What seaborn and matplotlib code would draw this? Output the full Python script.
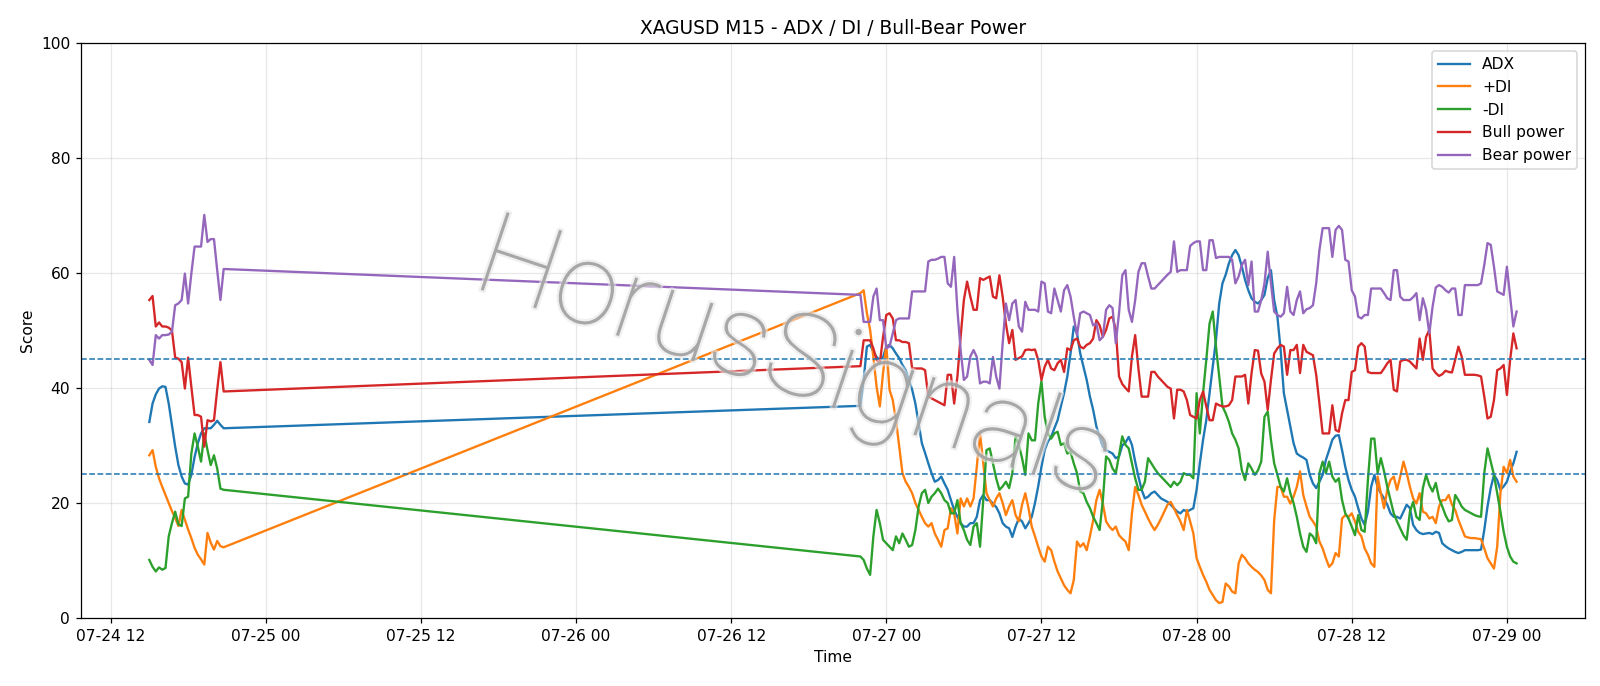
import matplotlib
matplotlib.use("Agg")
import matplotlib.pyplot as plt
import matplotlib.dates as mdates
import matplotlib.patheffects as pe
import numpy as np
import pandas as pd
import seaborn as sns

# ---- data -----------------------------------------------------------
seg1_start = "2025-07-24 15:00"
seg2_start = "2025-07-26 22:00"
freq = "15min"

adx_1 = [34.1, 37.3, 38.9, 39.9, 40.3, 40.2, 37.3, 33.6, 29.8, 26.6, 24.6, 23.4,
         23.2, 24.9, 28.0, 30.4, 32.1, 33.0, 33.0, 33.0, 33.6, 34.3, 33.6, 33.0]
pdi_1 = [28.3, 29.2, 26.3, 24.3, 22.8, 21.4, 20.0, 18.6, 17.4, 16.0, 18.8, 17.1,
         15.4, 13.9, 12.2, 11.0, 10.2, 9.3, 14.8, 13.1, 11.9, 13.4, 12.5, 12.3]
mdi_1 = [10.1, 8.9, 8.1, 8.8, 8.4, 8.7, 14.2, 16.5, 18.5, 16.3, 16.0, 20.8,
         21.1, 28.6, 32.1, 29.8, 27.2, 32.1, 29.2, 26.6, 28.3, 26.0, 22.5, 22.3]
bull_1 = [55.3, 56.0, 50.7, 51.4, 50.7, 50.7, 50.5, 50.0, 45.3, 45.1, 44.5, 39.9,
          45.3, 40.2, 35.3, 35.3, 35.0, 29.8, 34.4, 34.2, 34.4, 39.7, 44.5, 39.4]
bear_1 = [44.9, 44.0, 49.2, 48.6, 49.2, 49.2, 49.3, 49.8, 54.4, 54.7, 55.3, 59.9,
          54.7, 59.9, 64.6, 64.6, 64.6, 70.1, 65.4, 65.9, 65.9, 60.5, 55.3, 60.7]

adx_2 = [36.9, 41.4, 47.2, 47.5, 46.3, 45.4, 44.9, 45.4, 47.2, 47.5, 46.9, 46.0, 45.2, 44.0, 43.1, 41.4, 39.7, 37.3, 33.9, 30.4,
         28.7, 26.9, 25.2, 23.7, 24.0, 24.6, 23.4, 22.3, 20.5, 18.8, 17.6, 16.5, 15.9, 15.9, 16.5, 16.5, 17.6, 20.5, 21.4, 20.5,
         20.5, 19.9, 19.3, 18.2, 16.5, 15.9, 15.6, 14.1, 15.9, 17.3, 16.8, 15.6, 16.5, 17.6, 20.0, 22.9, 26.3, 29.2, 30.7, 31.5,
         33.0, 34.4, 36.8, 39.1, 42.0, 46.0, 50.7, 49.5, 46.0, 43.7, 41.4, 38.5, 36.2, 33.3, 31.5, 29.8, 29.2, 28.9, 28.6, 27.8,
         28.1, 30.0, 30.5, 31.5, 30.1, 27.2, 24.6, 22.3, 20.8, 21.1, 21.7, 22.0, 21.4, 20.8, 20.5, 20.2, 19.7, 19.1, 18.5, 18.2,
         18.8, 18.5, 18.8, 19.1, 22.3, 26.9, 31.0, 34.4, 39.1, 43.7, 48.4, 54.7, 58.2, 59.7, 61.7, 63.1, 64.0, 63.1, 61.1, 58.8,
         57.0, 55.6, 55.0, 54.7, 55.3, 56.2, 59.1, 60.5, 55.3, 52.4, 46.6, 39.1, 36.2, 33.3, 30.4, 28.6, 28.2, 27.9, 27.5, 24.9,
         23.4, 22.6, 23.7, 24.9, 27.5, 29.2, 31.0, 31.7, 31.8, 29.2, 26.3, 24.0, 22.3, 21.1, 19.1, 17.3, 16.2, 18.5, 22.8, 24.9,
         22.8, 21.7, 20.8, 19.7, 18.2, 17.6, 17.6, 17.3, 18.5, 19.7, 19.1, 16.2, 15.3, 14.8, 14.6, 14.7, 14.8, 14.6, 15.0, 14.8,
         13.0, 12.5, 12.1, 11.8, 11.5, 11.3, 11.5, 11.8, 11.8, 11.8, 11.8, 11.8, 11.9, 15.3, 19.4, 22.6, 24.9, 24.0, 22.3, 22.9,
         23.7, 25.5, 26.9, 28.9]
pdi_2 = [56.5, 57.0, 53.0, 50.1, 45.4, 40.2, 36.8, 42.6, 47.5, 39.7, 37.9, 34.4, 29.8, 25.2, 23.7, 22.8, 21.7, 20.0, 18.8, 17.6,
         16.5, 15.9, 16.5, 14.7, 13.6, 12.4, 15.3, 15.6, 19.1, 18.2, 14.7, 20.8, 19.4, 20.8, 19.4, 20.8, 26.3, 32.1, 26.9, 21.7,
         20.5, 19.4, 20.8, 21.7, 20.0, 17.9, 19.4, 20.5, 17.9, 16.8, 19.7, 21.7, 19.1, 15.9, 14.2, 12.4, 10.7, 9.8, 12.4, 11.8,
         9.8, 8.1, 6.9, 5.7, 4.9, 4.3, 6.6, 13.3, 12.4, 13.0, 11.8, 14.2, 17.0, 20.5, 22.3, 19.9, 16.8, 15.9, 15.3, 15.9,
         14.4, 13.8, 13.3, 11.8, 18.2, 22.8, 21.4, 19.7, 18.5, 17.3, 16.2, 15.3, 16.2, 17.3, 18.5, 19.7, 20.2, 19.1, 17.9, 16.8,
         15.3, 18.8, 16.8, 14.7, 10.4, 8.9, 7.5, 6.3, 4.9, 4.0, 3.1, 2.6, 2.8, 6.0, 5.5, 4.6, 4.3, 9.5, 11.0, 10.4,
         9.5, 8.9, 8.4, 8.0, 7.4, 6.6, 4.9, 4.3, 17.0, 22.8, 22.8, 21.1, 21.1, 19.9, 21.1, 22.8, 25.5, 21.4, 19.4, 17.6,
         16.8, 15.9, 13.3, 12.1, 10.4, 8.9, 9.5, 11.3, 10.7, 17.3, 17.9, 17.6, 18.2, 16.8, 15.0, 14.2, 12.1, 11.0, 9.5, 8.9,
         24.6, 21.7, 19.1, 22.3, 24.0, 24.6, 22.3, 24.6, 27.2, 25.2, 22.8, 20.8, 19.9, 21.7, 18.5, 18.2, 17.3, 17.6, 16.5, 19.4,
         20.5, 20.5, 21.4, 19.7, 18.8, 17.05, 15.6, 14.2, 14.0, 13.9, 13.9, 13.8, 13.7, 12.1, 10.4, 9.5, 8.6, 12.4, 21.7, 26.3,
         25.2, 27.5, 24.6, 23.7]
mdi_2 = [10.7, 10.1, 8.6, 7.5, 14.2, 18.8, 16.5, 13.6, 13.0, 12.4, 11.8, 14.2, 13.0, 14.7, 13.6, 12.4, 12.7, 15.3, 19.4, 21.7,
         22.3, 20.0, 21.1, 21.7, 22.5, 21.7, 20.5, 20.0, 18.2, 18.2, 20.5, 16.5, 15.3, 13.6, 12.7, 15.9, 16.5, 12.4, 20.5, 29.2,
         29.5, 26.9, 24.3, 22.3, 22.9, 23.7, 22.6, 25.2, 31.5, 30.1, 27.8, 24.9, 32.1, 30.9, 30.9, 37.3, 41.2, 35.0, 32.1, 31.2,
         32.1, 32.4, 30.1, 30.4, 28.6, 28.9, 26.9, 25.2, 22.0, 21.7, 20.2, 19.1, 17.6, 16.5, 15.3, 20.5, 28.1, 27.5, 26.0, 25.2,
         28.3, 31.6, 30.1, 29.5, 26.9, 24.3, 22.3, 22.3, 23.7, 27.8, 26.9, 26.0, 25.2, 24.6, 24.0, 23.4, 22.8, 23.7, 23.1, 23.7,
         25.2, 24.9, 24.9, 24.3, 39.1, 32.1, 39.1, 44.9, 51.2, 53.3, 47.2, 42.0, 36.8, 35.6, 34.1, 32.1, 31.0, 29.5, 25.7, 24.0,
         26.9, 26.0, 24.9, 25.7, 27.2, 35.0, 35.9, 31.0, 26.9, 24.9, 22.8, 22.0, 24.3, 21.7, 20.0, 17.6, 14.7, 12.4, 11.5, 14.7,
         14.2, 13.0, 25.2, 27.2, 25.2, 27.2, 24.6, 23.7, 24.3, 20.5, 18.2, 17.3, 15.9, 14.4, 17.9, 15.3, 15.0, 24.0, 31.2, 31.2,
         25.2, 27.8, 25.5, 22.8, 20.5, 18.2, 16.8, 15.6, 14.4, 13.6, 18.5, 20.2, 17.6, 17.05, 22.6, 24.9, 23.1, 22.0, 23.5, 20.8,
         19.4, 17.9, 16.8, 17.05, 21.4, 20.5, 19.4, 18.8, 18.5, 18.2, 17.9, 17.7, 17.6, 25.2, 29.5, 27.2, 24.9, 21.7, 18.5, 15.0,
         12.4, 10.7, 9.8, 9.5]
bull_2 = [43.8, 48.3, 48.3, 48.3, 46.9, 44.9, 44.3, 48.9, 52.7, 53.0, 52.1, 48.3, 48.3, 48.0, 48.0, 47.8, 43.4, 43.4, 43.4, 43.4,
          43.1, 38.5, 38.2, 37.9, 37.6, 37.3, 37.0, 42.3, 42.3, 37.3, 42.0, 48.9, 55.3, 58.5, 55.9, 53.6, 53.6, 59.1, 58.8, 59.1,
          59.4, 55.9, 55.6, 59.6, 55.9, 51.2, 47.8, 50.1, 44.9, 45.2, 45.5, 46.6, 46.7, 46.6, 46.7, 44.9, 41.4, 43.7, 44.9, 43.4,
          43.1, 44.3, 44.9, 42.8, 46.9, 46.6, 48.3, 48.6, 47.2, 46.9, 47.5, 47.8, 48.6, 51.8, 50.9, 48.9, 50.1, 52.1, 52.4, 50.1,
          42.0, 40.7, 40.0, 39.4, 45.5, 49.2, 43.4, 38.5, 38.5, 38.5, 42.8, 42.8, 42.0, 41.4, 40.8, 40.2, 39.9, 34.7, 39.7, 39.7,
          39.4, 37.9, 35.3, 35.0, 34.7, 37.9, 39.4, 36.8, 34.4, 34.4, 37.3, 37.0, 36.8, 36.8, 37.0, 37.9, 42.0, 42.0, 42.0, 42.3,
          37.3, 42.6, 46.6, 46.5, 42.5, 41.1, 36.2, 41.4, 46.0, 46.9, 47.5, 47.2, 42.3, 46.6, 46.6, 47.5, 42.6, 47.5, 46.3, 46.0,
          45.7, 42.3, 37.3, 32.1, 32.1, 32.1, 37.0, 32.7, 32.4, 35.6, 37.9, 37.9, 42.8, 43.1, 47.2, 47.8, 47.2, 42.8, 42.6, 42.6,
          42.6, 42.6, 43.4, 44.3, 44.9, 39.7, 39.4, 44.6, 44.9, 44.9, 44.6, 44.0, 43.4, 48.6, 44.9, 48.9, 50.1, 43.4, 42.6, 42.1,
          42.4, 43.0, 42.8, 42.7, 44.9, 47.2, 45.5, 42.3, 42.3, 42.3, 42.3, 42.2, 42.0, 38.5, 34.7, 35.0, 37.9, 43.1, 43.4, 44.0,
          38.8, 44.9, 49.5, 46.9]
bear_2 = [56.2, 51.5, 51.5, 51.5, 55.9, 57.3, 51.8, 51.8, 46.9, 47.2, 49.5, 51.8, 52.1, 52.1, 52.1, 52.1, 56.8, 56.8, 56.8, 56.8,
          56.8, 62.0, 62.3, 62.3, 62.5, 62.8, 62.8, 58.2, 57.6, 62.8, 53.6, 46.6, 41.4, 42.0, 45.5, 46.6, 45.4, 40.8, 41.1, 41.1,
          40.8, 45.4, 42.0, 39.9, 47.8, 54.7, 51.8, 54.7, 55.3, 50.7, 49.8, 55.0, 53.6, 53.6, 53.6, 53.3, 58.5, 58.2, 53.3, 53.0,
          57.3, 55.3, 53.3, 57.0, 57.9, 55.9, 52.4, 49.2, 53.0, 53.3, 53.0, 52.7, 50.9, 51.2, 48.3, 48.9, 53.6, 54.4, 53.9, 47.8,
          53.0, 59.6, 60.5, 53.6, 51.5, 55.3, 60.2, 61.7, 61.7, 59.4, 57.3, 57.3, 57.9, 58.5, 59.1, 59.7, 60.2, 65.5, 60.2, 60.5,
          60.5, 60.5, 64.7, 65.2, 65.5, 65.5, 60.5, 60.5, 65.7, 65.7, 62.6, 62.8, 62.8, 62.8, 62.8, 62.3, 58.2, 59.4, 61.4, 62.3,
          57.9, 62.0, 53.3, 53.3, 55.3, 58.2, 63.7, 58.2, 53.3, 52.7, 52.4, 53.0, 57.6, 53.3, 52.7, 55.3, 56.8, 53.0, 53.7, 53.9,
          54.4, 58.2, 64.0, 67.8, 67.8, 67.8, 62.8, 67.5, 68.2, 67.5, 62.3, 62.0, 57.0, 55.9, 52.4, 52.1, 52.7, 52.7, 57.3, 57.3,
          57.3, 57.3, 56.5, 55.6, 55.3, 60.5, 60.5, 55.9, 55.3, 55.3, 55.3, 55.8, 56.5, 51.8, 55.6, 53.6, 49.5, 54.1, 57.5, 57.9,
          57.6, 57.0, 56.6, 57.3, 57.3, 52.7, 52.7, 57.9, 57.9, 57.9, 57.9, 57.9, 58.2, 61.4, 65.2, 64.9, 61.1, 56.8, 56.5, 56.2,
          61.1, 55.9, 50.7, 53.3]

series_names = ["ADX", "+DI", "-DI", "Bull power", "Bear power"]
series_colors = ["#1f77b4", "#ff7f0e", "#2ca02c", "#d62728", "#9467bd"]
threshold_levels = [45, 25]

title_text = "XAGUSD M15 - ADX / DI / Bull-Bear Power"
x_label = "Time"
y_label = "Score"
watermark_text = "HorusSignals"

# ---- build frame ----------------------------------------------------
t1 = pd.date_range(seg1_start, periods=len(adx_1), freq=freq)
t2 = pd.date_range(seg2_start, periods=len(adx_2), freq=freq)
times = t1.append(t2)

values = {
    "ADX": adx_1 + adx_2,
    "+DI": pdi_1 + pdi_2,
    "-DI": mdi_1 + mdi_2,
    "Bull power": bull_1 + bull_2,
    "Bear power": bear_1 + bear_2,
}
frames = []
for name in series_names:
    frames.append(pd.DataFrame({"time": times, "value": values[name], "series": name}))
df = pd.concat(frames, ignore_index=True)

# ---- plot -----------------------------------------------------------
DPI = 112
fig = plt.figure(figsize=(1600 / DPI, 686 / DPI), dpi=DPI)
ax = fig.add_axes([0.0506, 0.0991, 0.9400, 0.8382])

sns.lineplot(data=df, x="time", y="value", hue="series", hue_order=series_names,
             palette=series_colors, estimator=None, sort=True, linewidth=1.5, ax=ax)

for lvl in threshold_levels:
    ax.axhline(lvl, color="#1f77b4", linestyle="--", linewidth=1.0)

ax.set_ylim(0, 100)
ax.xaxis.set_major_locator(mdates.HourLocator(byhour=[0, 12]))
ax.xaxis.set_major_formatter(mdates.DateFormatter("%m-%d %H"))
ax.grid(True, alpha=0.3)
ax.set_title(title_text, fontsize=12)
ax.set_xlabel(x_label, fontsize=10)
ax.set_ylabel(y_label, fontsize=10)

handles, labels = ax.get_legend_handles_labels()
ax.legend(handles, labels, loc="upper right", fontsize=10)

ax.text(0.474, 0.445, watermark_text, transform=ax.transAxes, fontsize=74,
        family=["Roboto", "DejaVu Sans"], fontweight="light",
        rotation=-18.5, ha="center", va="center", color="#9c9c9c", alpha=0.8,
        zorder=10,
        path_effects=[pe.withStroke(linewidth=3, foreground="#e6e6e6", alpha=0.6)])

fig.savefig("out.png", dpi=DPI)
